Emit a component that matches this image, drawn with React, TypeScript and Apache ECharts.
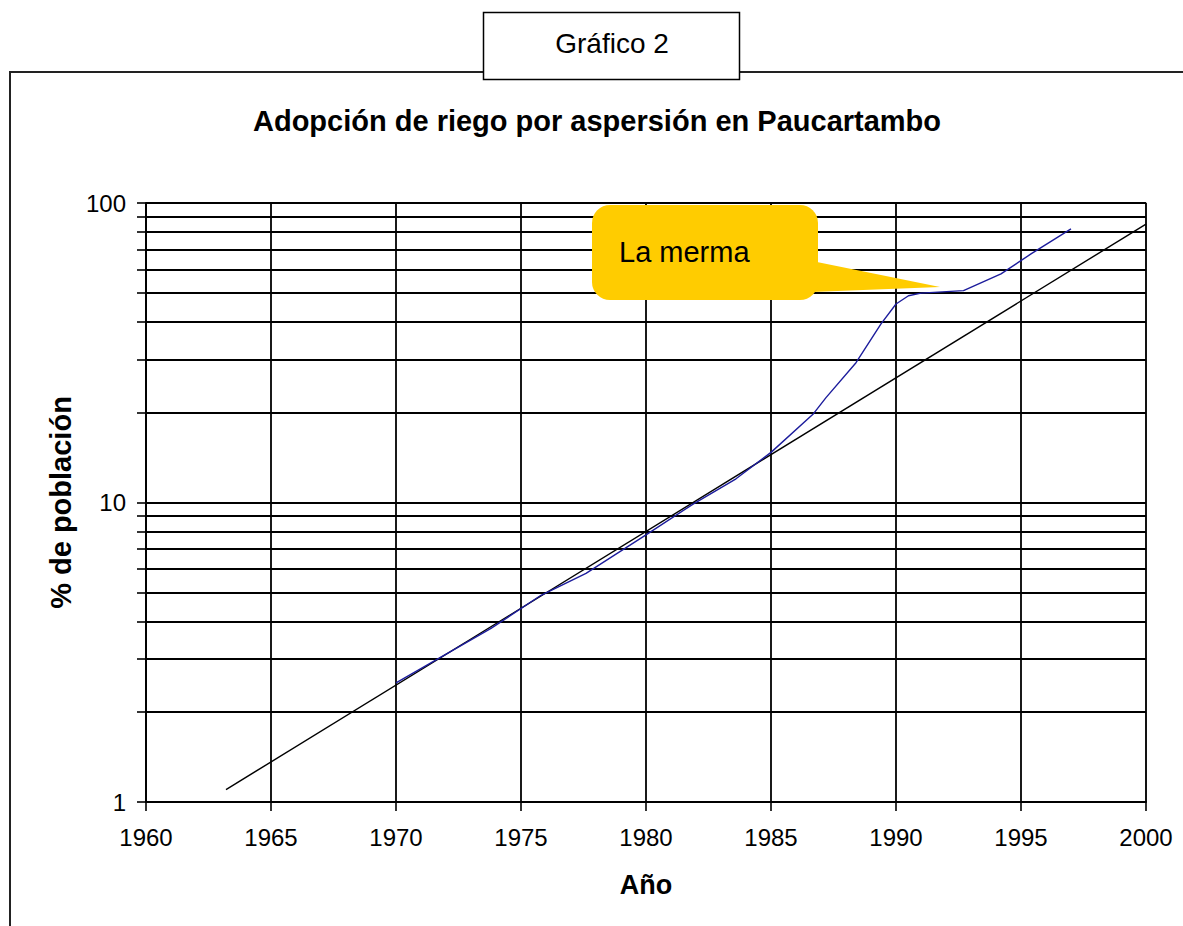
import React, { useEffect, useRef } from "react";
import * as echarts from "echarts";

const chartTitle = "Adopción de riego por aspersión en Paucartambo";
const boxLabel = "Gráfico 2";
const calloutText = "La merma";
const xAxisName = "Año";
const yAxisName = "% de población";

// Observed adoption (blue line)
const adoptionYears = [1970, 1973.8, 1975.8, 1977.6, 1980, 1981.9, 1983.6, 1985, 1986.7, 1987.2, 1988.4, 1989.4, 1990, 1990.5, 1991, 1992.7, 1994.2, 1995.4, 1997];
const adoptionValues = [2.5, 3.8, 4.9, 5.8, 7.8, 9.9, 12.0, 14.7, 19.8, 22.4, 29.3, 39.5, 46, 49, 50, 51, 58, 67.6, 82];

// Exponential trend (black line)
const trendYears = [1963.2, 2000];
const trendValues = [1.1, 85];

// Axis ticks
const yTickValues = [1, 2, 3, 4, 5, 6, 7, 8, 9, 10, 20, 30, 40, 50, 60, 70, 80, 90, 100];
const yLabelValues = [1, 10, 100];

const FONT = 'Arial, "Liberation Sans", sans-serif';

export default function App() {
  const ref = useRef<HTMLDivElement>(null);

  useEffect(() => {
    if (!ref.current) return;
    const chart = echarts.init(ref.current, null, { renderer: "svg" });
    const option: any = {
      animation: false,
      backgroundColor: "#ffffff",
      grid: {
        left: 146,
        top: 203,
        right: 37,
        bottom: 124,
        show: true,
        borderColor: "#9a9a9a",
        borderWidth: 1.5,
        backgroundColor: "transparent",
        outerBoundsMode: "none",
        containLabel: false,
      },
      xAxis: {
        type: "value",
        min: 1960,
        max: 2000,
        interval: 5,
        name: xAxisName,
        nameLocation: "middle",
        nameGap: 69,
        nameTextStyle: { fontFamily: FONT, fontSize: 27, fontWeight: "bold", color: "#000" },
        axisLine: { show: true, onZero: false, lineStyle: { color: "#000", width: 1.8 } },
        axisTick: { show: true, inside: false, length: 9, lineStyle: { color: "#000", width: 1.6 } },
        axisLabel: { fontFamily: FONT, fontSize: 24, color: "#000", margin: 23, formatter: (v: number) => String(v) },
        splitLine: { show: true, lineStyle: { color: "#000", width: 1.8 } },
      },
      yAxis: {
        type: "log",
        logBase: 10,
        min: 1,
        max: 100,
        name: yAxisName,
        nameLocation: "middle",
        nameGap: 71,
        nameTextStyle: { fontFamily: FONT, fontSize: 29, fontWeight: "bold", color: "#000" },
        axisLine: { show: true, lineStyle: { color: "#000", width: 1.8 } },
        axisTick: { show: true, inside: false, length: 9, customValues: yTickValues, lineStyle: { color: "#000", width: 1.6 } },
        axisLabel: { fontFamily: FONT, fontSize: 24, color: "#000", margin: 20, customValues: yLabelValues, formatter: (v: number) => String(Math.round(v)) },
        splitLine: { show: true, lineStyle: { color: "#000", width: 1.8 } },
        minorTick: { show: false },
      },
      series: [
        {
          name: "Tendencia",
          type: "line",
          data: trendYears.map((x, i) => [x, trendValues[i]]),
          showSymbol: false,
          symbol: "none",
          lineStyle: { color: "#000", width: 1.4 },
          z: 3,
        },
        {
          name: "Adopción",
          type: "line",
          data: adoptionYears.map((x, i) => [x, adoptionValues[i]]),
          showSymbol: false,
          symbol: "none",
          lineStyle: { color: "#1c1c9c", width: 1.4 },
          z: 4,
        },
      ],
      graphic: [
        {
          type: "rect",
          z: 0,
          silent: true,
          shape: { x: 10, y: 72, width: 1250, height: 950 },
          style: { fill: "none", stroke: "#222", lineWidth: 2 },
        },
        {
          type: "rect",
          z: 5,
          silent: true,
          shape: { x: 483.5, y: 12.5, width: 256, height: 67 },
          style: { fill: "#fff", stroke: "#000", lineWidth: 1.5 },
        },
        {
          type: "text",
          z: 6,
          silent: true,
          x: 612,
          y: 43,
          style: { text: boxLabel, fontFamily: FONT, fontSize: 28, fill: "#000", align: "center", verticalAlign: "middle" },
        },
        {
          type: "text",
          z: 6,
          silent: true,
          x: 597,
          y: 121,
          style: { text: chartTitle, fontFamily: FONT, fontSize: 29, fontWeight: "bold", fill: "#000", align: "center", verticalAlign: "middle" },
        },
        {
          type: "polygon",
          z: 1,
          silent: true,
          shape: { points: [[812, 261], [940, 287], [812, 292]] },
          style: { fill: "#ffcc00" },
        },
        {
          type: "rect",
          z: 1,
          silent: true,
          shape: { x: 592, y: 205, width: 226, height: 95, r: 18 },
          style: { fill: "#ffcc00" },
        },
        {
          type: "text",
          z: 2,
          silent: true,
          x: 619,
          y: 252,
          style: { text: calloutText, fontFamily: FONT, fontSize: 29, fill: "#000", align: "left", verticalAlign: "middle" },
        },
      ],
    };
    chart.setOption(option);
    return () => chart.dispose();
  }, []);

  return (
    <div
      ref={ref}
      style={{ position: "fixed", left: 0, top: 0, width: 1183, height: 926, background: "#fff" }}
    />
  );
}
